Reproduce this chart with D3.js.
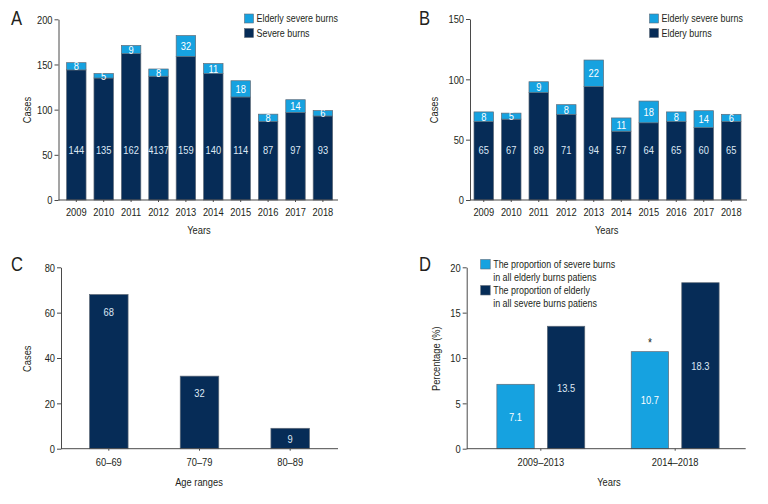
<!DOCTYPE html>
<html><head><meta charset="utf-8">
<script src="https://cdn.jsdelivr.net/npm/d3@7"></script>
<style>
html,body{margin:0;padding:0;background:#fff;}
svg text{font-family:"Liberation Sans Narrow","Liberation Sans",Arial,sans-serif;fill:#231f20;}
</style></head>
<body>
<svg id="chart" width="768" height="504"></svg>
<script>
// ---------- DATA ----------
const years = ["2009","2010","2011","2012","2013","2014","2015","2016","2017","2018"];
// Panel A
const severeA = [144,135,162,137,159,140,114,87,97,93];
const severeLabelsA = ["144","135","162","4137","159","140","114","87","97","93"];
const elderlySevereA = [8,5,9,8,23,11,18,8,14,6];
const elderlySevereLabelsA = ["8","5","9","8","32","11","18","8","14","6"];
const ticksA = [0,50,100,150,200];
// Panel B
const elderlyB = [65,67,89,71,94,57,64,65,60,65];
const elderlySevereB = [8,5,9,8,22,11,18,8,14,6];
const ticksB = [0,50,100,150];
// Panel C
const ageRanges = ["60–69","70–79","80–89"];
const casesC = [68,32,9];
const ticksC = [0,20,40,60,80];
// Panel D
const periods = ["2009–2013","2014–2018"];
const propSevereInElderly = [7.1,10.7];
const propElderlyInSevere = [13.5,18.3];
const significance = ["","*"];
const ticksD = [0,5,10,15,20];

// ---------- STYLE ----------
const DARK = "#062c57", LIGHT = "#16a2e0", EDGE = "#5f6b78", AXIS = "#4a4a4a";
const FS = 11.8;
const svg = d3.select("#chart");

function yAxis(g, y, ticks, x0){
  const ax = g.append("g").attr("transform",`translate(${x0},0)`)
    .call(d3.axisLeft(y).tickValues(ticks).tickSizeInner(4).tickSizeOuter(0).tickPadding(2));
  ax.select(".domain").attr("stroke",AXIS);
  ax.selectAll(".tick line").attr("stroke",AXIS);
  ax.selectAll("text").attr("font-size",FS).attr("font-family",null).style("fill","#231f20");
  return ax;
}
function xAxis(g, x, y0, x0, x1, pad){
  g.append("line").attr("x1",x0).attr("x2",x1).attr("y1",y0).attr("y2",y0).attr("stroke",AXIS);
  const ax = g.append("g").attr("transform",`translate(0,${y0})`)
    .call(d3.axisBottom(x).tickSizeInner(2).tickSizeOuter(0).tickPadding(pad));
  ax.select(".domain").remove();
  ax.selectAll(".tick line").attr("stroke",AXIS);
  ax.selectAll("text").attr("font-size",FS).attr("font-family",null).style("fill","#231f20");
}
function title(g, txt, x, y){ g.append("text").attr("x",x).attr("y",y).attr("font-size",21).text(txt); }
function xTitle(g, txt, x, y){ g.append("text").attr("x",x).attr("y",y).attr("text-anchor","middle").attr("font-size",FS).text(txt); }
function yTitle(g, txt, x, y){ g.append("text").attr("transform",`translate(${x},${y}) rotate(-90)`).attr("text-anchor","middle").attr("dy","0.35em").attr("font-size",FS).text(txt); }
function legend(g, items, x, y, sz, gap){
  items.forEach((it,i)=>{
    g.append("rect").attr("x",x).attr("y",y+i*gap).attr("width",sz).attr("height",sz).attr("fill",it.c).attr("stroke",EDGE).attr("stroke-width",0.6);
    it.lines.forEach((l,j)=>{
      g.append("text").attr("x",x+sz+3).attr("y",y+i*gap+sz/2+j*12.7).attr("dy","0.35em").attr("font-size",FS-0.5).text(l);
    });
  });
}

// ---------- Stacked panel (A, B) ----------
function stacked(g, opts){
  const {base, top, baseLabels, topLabels, ymax, ticks, ax0, axEnd, r0, r1, yTop, yBot} = opts;
  const x = d3.scaleBand().domain(years).range([r0,r1]).paddingInner(0.29).paddingOuter(0.145);
  const y = d3.scaleLinear().domain([0,ymax]).range([yBot,yTop]);
  years.forEach((yr,i)=>{
    const b = base[i], t = top[i];
    g.append("rect").attr("x",x(yr)).attr("width",x.bandwidth())
      .attr("y",y(b)).attr("height",y(0)-y(b)).attr("fill",DARK).attr("stroke",EDGE).attr("stroke-width",0.7);
    g.append("rect").attr("x",x(yr)).attr("width",x.bandwidth())
      .attr("y",y(b+t)).attr("height",y(b)-y(b+t)).attr("fill",LIGHT).attr("stroke",EDGE).attr("stroke-width",0.7);
    g.append("text").attr("x",x(yr)+x.bandwidth()/2).attr("y",y(0)-50).attr("dy","0.35em")
      .attr("text-anchor","middle").attr("font-size",FS).style("fill","#dde8f5").text(baseLabels[i]);
    g.append("text").attr("x",x(yr)+x.bandwidth()/2).attr("y",(y(b)+y(b+t))/2).attr("dy","0.35em")
      .attr("text-anchor","middle").attr("font-size",FS).style("fill","#ffffff").text(topLabels[i]);
  });
  yAxis(g, y, ticks, ax0);
  xAxis(g, x, y(0), ax0, axEnd, 6);
}

// Panel A
const gA = svg.append("g");
stacked(gA,{base:severeA, top:elderlySevereA, baseLabels:severeLabelsA, topLabels:elderlySevereLabelsA,
  ymax:200, ticks:ticksA, ax0:58.5, axEnd:338, r0:62.6, r1:336.6, yTop:19.3, yBot:200});
title(gA,"A",11,25);
xTitle(gA,"Years",199,234);
yTitle(gA,"Cases",26.7,110);
legend(gA,[{c:LIGHT,lines:["Elderly severe burns"]},{c:DARK,lines:["Severe burns"]}],244.5,14,9,14.5);

// Panel B
const gB = svg.append("g");
stacked(gB,{base:elderlyB, top:elderlySevereB, baseLabels:elderlyB.map(String), topLabels:elderlySevereB.map(String),
  ymax:150, ticks:ticksB, ax0:470, axEnd:747, r0:470, r1:745, yTop:19, yBot:200});
title(gB,"B",419,25);
xTitle(gB,"Years",606.7,234);
yTitle(gB,"Cases",434,110);
legend(gB,[{c:LIGHT,lines:["Elderly severe burns"]},{c:DARK,lines:["Eldery burns"]}],649.5,14,9,14.5);

// Panel C
const gC = svg.append("g");
{
  const x = d3.scaleBand().domain(ageRanges).range([61,338]).paddingInner(0.575).paddingOuter(0.3145);
  const y = d3.scaleLinear().domain([0,80]).range([448.7,267.3]);
  ageRanges.forEach((a,i)=>{
    const v = casesC[i];
    gC.append("rect").attr("x",x(a)).attr("width",x.bandwidth()).attr("y",y(v)).attr("height",y(0)-y(v))
      .attr("fill",DARK).attr("stroke",EDGE).attr("stroke-width",0.7);
    const ly = Math.min(y(v)+17,(y(v)+y(0))/2);
    gC.append("text").attr("x",x(a)+x.bandwidth()/2).attr("y",ly).attr("dy","0.35em").attr("text-anchor","middle")
      .attr("font-size",FS).style("fill","#dde8f5").text(v);
  });
  yAxis(gC, y, ticksC, 61);
  xAxis(gC, x, y(0), 61, 338, 7);
}
title(gC,"C",11,271);
xTitle(gC,"Age ranges",199,486);
yTitle(gC,"Cases",27,358.7);

// Panel D
const gD = svg.append("g");
{
  const x0 = d3.scaleBand().domain(periods).range([470,746]).paddingInner(0.346).paddingOuter(0.2);
  const series = [{k:"s",vals:propSevereInElderly,c:LIGHT},{k:"e",vals:propElderlyInSevere,c:DARK}];
  const x1 = d3.scaleBand().domain(series.map(s=>s.k)).range([0,x0.bandwidth()]).paddingInner(0.26).paddingOuter(0);
  const y = d3.scaleLinear().domain([0,20]).range([448.7,267.3]);
  periods.forEach((p,i)=>{
    series.forEach(s=>{
      const v = s.vals[i];
      const bx = x0(p)+x1(s.k);
      gD.append("rect").attr("x",bx).attr("width",x1.bandwidth()).attr("y",y(v)).attr("height",y(0)-y(v))
        .attr("fill",s.c).attr("stroke",EDGE).attr("stroke-width",0.7);
      gD.append("text").attr("x",bx+x1.bandwidth()/2).attr("y",(y(v)+y(0))/2).attr("dy","0.35em").attr("text-anchor","middle")
        .attr("font-size",FS).style("fill",s.c===DARK?"#dde8f5":"#ffffff").text(v.toFixed(1));
    });
    if(significance[i]){
      const bx = x0(p)+x1("s");
      gD.append("text").attr("x",bx+x1.bandwidth()/2).attr("y",y(propSevereInElderly[i])-5).attr("text-anchor","middle")
        .attr("font-size",FS+1).text(significance[i]);
    }
  });
  yAxis(gD, y, ticksD, 466.7);
  xAxis(gD, x0, y(0), 466.7, 745.7, 7);
}
title(gD,"D",419,271);
xTitle(gD,"Years",609,486);
yTitle(gD,"Percentage (%)",435.7,358.7);
legend(gD,[{c:LIGHT,lines:["The proportion of severe burns","in all elderly burns patiens"]},
           {c:DARK,lines:["The proportion of elderly","in all severe burns patiens"]}],480.7,259.5,9.5,26);

// Condense all text horizontally (emulating a condensed typeface)
svg.selectAll("text").each(function(){
  const len = this.getComputedTextLength();
  if(len>0) d3.select(this).attr("textLength",len*0.79).attr("lengthAdjust","spacingAndGlyphs");
});
</script>
</body></html>
